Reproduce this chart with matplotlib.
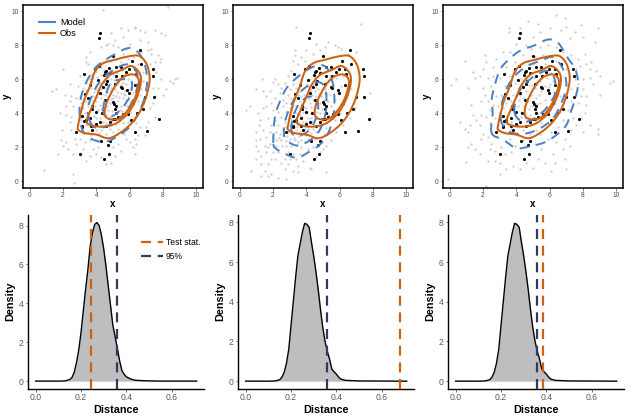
import numpy as np
import matplotlib
matplotlib.use("Agg")
import matplotlib.pyplot as plt
from matplotlib.path import Path
from matplotlib.patches import PathPatch
from matplotlib.lines import Line2D

plt.rcParams['font.family'] = ['Liberation Sans', 'DejaVu Sans']

BLUE = '#4a80c4'
ORANGE = '#cf6210'
NAVY = '#2e3a5e'
GREY = '#cfcfcf'

obs_points = [
 (4.2,8.7),(4.15,8.44),(6.63,7.75),(5,7.38),(6.15,7.07),(6.69,6.9),(4.15,6.8),(3.9,6.6),(7.38,6.62),(5.45,6.74),
 (5.15,6.74),(4.75,6.66),(4.6,6.5),(4.5,6.4),(4.8,6.35),(3.27,6.29),(4.45,6.23),(7.43,6.2),(5.97,6.58),(6.3,6.58),
 (6.37,6.3),(5.8,6.45),(5.53,6.2),(5.15,6.19),(4.07,5.96),(4.63,5.9),(3.6,5.66),(4.6,5.72),(5.1,5.7),(6.3,5.68),
 (6.53,5.66),(5.45,5.53),(5.55,5.47),(4.37,5.53),(5.87,5.37),(5.97,5.2),(3.3,5.14),(4.2,5.18),(3.5,4.9),(6.95,4.94),
 (7.45,4.96),(4.5,4.78),(5,4.69),(5.07,4.53),(5.2,4.43),(6.2,4.59),(3.75,4.45),(3.75,4.26),(5.1,4.24),(6.8,4.26),
 (4,4.06),(5.2,4.04),(6.45,4.04),(4.35,4),(5.6,3.96),(5.9,3.95),(3.17,3.85),(3.65,3.7),(5.3,3.77),(5,3.67),
 (5.1,3.69),(6.1,3.61),(3.25,3.57),(3.37,3.61),(7.78,3.65),(4.2,3.46),(4,3.36),(4.8,3.5),(3.17,3.26),(3.67,3.22),
 (4.57,3.22),(3.77,3.03),(2.77,2.91),(7.07,2.97),(6.3,2.89),(3.17,3.18),(4.27,2.34),(4.8,2.38),(4.7,2.11),(3.03,1.58),
 (4.75,1.58),(4.45,1.29),
]

grey_1 = [
 (0.85,0.65),(2.6,0.4),(2.65,-0.1),(1.35,5.3),(1.6,5.45),(8.3,10.25),(4.4,10.1),(1.7,1.6),(2.0,2.1),(1.9,2.4),
 (1.95,3.0),(2.2,2.3),(2.3,1.9),(2.6,1.6),(2.8,2.2),(2.7,2.5),(2.5,3.0),(2.4,3.5),(2.2,3.9),(2.5,3.8),
 (2.2,4.4),(2.4,4.7),(2.6,4.4),(2.5,5.0),(2.0,6.6),(2.9,5.6),(3.0,5.0),(2.8,4.9),(3.0,6.2),(3.4,7.0),
 (3.4,7.3),(3.5,6.9),(3.7,6.3),(3.6,7.6),(4.3,7.9),(4.6,8.0),(4.9,8.7),(5.5,9.0),(5.9,8.9),(6.3,9.0),
 (6.3,9.1),(6.6,8.9),(6.9,8.8),(7.5,8.9),(7.9,8.7),(8.1,8.6),(5.1,8.3),(5.6,8.5),(4.7,8.1),(5.0,8.0),
 (5.3,7.9),(5.8,7.8),(6.0,8.1),(6.6,8.3),(7.1,8.2),(7.3,7.8),(7.1,7.7),(7.3,7.5),(7.7,7.4),(7.9,7.2),
 (7.8,7.0),(7.5,7.0),(7.2,6.9),(7.6,6.4),(7.9,6.0),(8.4,5.9),(8.7,6.0),(8.85,6.1),(8.2,5.4),(7.7,5.5),
 (7.4,5.5),(7.5,5.0),(7.4,4.6),(7.2,4.3),(7.5,3.8),(7.1,3.5),(7.0,3.2),(6.9,2.7),(6.5,2.7),(6.3,2.5),
 (6.4,2.2),(6.2,2.0),(6.3,1.6),(6.0,2.3),(5.8,2.5),(5.5,1.8),(5.3,2.2),(5.0,2.0),(5.1,1.5),(4.9,1.1),
 (4.6,1.0),(4.3,1.4),(4.0,1.6),(3.8,1.9),(3.6,1.5),(3.4,1.2),(3.2,1.9),(3.3,2.3),(3.0,2.5),(3.6,2.4),
 (4.0,2.4),(4.1,2.0),(3.0,3.3),(3.1,3.6),(3.4,3.3),(3.3,4.0),(3.5,3.9),(3.7,3.4),(3.5,4.4),(3.4,4.7),
 (3.6,4.9),(3.8,4.7),(3.8,5.0),(3.9,4.4),(4.0,4.7),(4.1,4.2),(4.0,3.7),(4.2,3.7),(4.2,4.5),(4.3,4.9),
 (4.1,5.2),(3.9,5.4),(3.7,5.5),(4.0,5.6),(4.2,5.7),(4.3,5.4),(4.5,5.1),(4.4,4.6),(4.5,4.3),(4.6,3.9),
 (4.4,3.5),(4.6,3.4),(4.9,3.3),(4.8,3.8),(4.7,4.2),(4.8,4.6),(4.7,5.0),(4.8,5.3),(4.9,5.5),(4.6,5.5),
 (4.7,6.1),(4.9,6.0),(5.0,6.3),(5.2,6.0),(5.3,5.8),(5.1,5.4),(5.0,5.1),(5.2,5.0),(5.0,4.9),(5.3,4.7),
 (5.4,4.2),(5.5,3.7),(5.6,3.4),(5.3,3.1),(5.0,2.9),(5.5,2.9),(5.8,3.1),(5.9,3.5),(6.0,4.1),(5.7,4.5),
 (5.6,4.9),(5.8,4.8),(6.0,4.7),(5.5,5.2),(5.7,5.3),(5.8,5.7),(5.6,5.8),(5.9,6.0),(6.1,5.9),(6.0,5.5),
 (6.2,5.2),(6.3,4.9),(6.5,4.7),(6.6,5.1),(6.7,5.4),(6.8,5.9),(6.6,6.2),(6.8,6.4),(6.5,6.9),(6.2,7.3),
 (5.9,7.2),(5.5,7.0),(5.6,7.5),(5.2,7.2),(4.9,7.1),(4.6,7.2),(4.4,7.0),(4.3,6.7),(4.0,6.4),(3.8,6.1),
 (3.6,6.0),(3.4,5.8),(3.2,5.5),(3.1,4.6),(3.2,4.3),(6.3,3.7),(6.4,3.4),(6.6,3.2),(4.3,3.0),(4.0,3.0),
 (4.6,2.8),(3.5,2.9),(3.7,2.7),(8.0,5.1),(8.6,5.8),(1.8,4.0),(2.1,5.1),(2.4,5.7),(6.7,7.6),(6.9,7.0),
 (4.05,4.95),(4.15,5.45),(4.35,5.15),(4.55,4.75),(4.65,4.45),(4.25,4.25),(4.45,3.85),(4.75,3.65),(4.95,4.15),(5.05,4.65),
 (4.9,4.85),(4.65,5.25),(4.85,5.75),(5.05,5.95),(5.15,5.65),(5.25,5.25),(5.35,4.95),(5.45,4.45),(5.55,4.15),(5.35,3.55),
 (5.15,3.35),(4.95,3.55),(4.25,3.25),(3.85,3.85),(3.65,4.15),(3.55,4.65),(3.85,5.25),(4.05,5.35),(4.45,5.85),(4.25,6.25),
 (5.45,5.65),(5.65,5.15),(5.75,5.05),(5.85,4.45),(5.25,6.35),(5.75,6.25),(5.55,6.55),(4.95,6.55),(4.45,6.55),(4.05,6.15),
 (3.75,5.85),(3.35,5.35),(3.15,5.15),(3.25,4.85),(3.65,3.65),(3.85,3.25),(4.15,2.85),(4.85,3.05),(5.25,2.75),(5.65,2.75),
]

grey_2 = [
 (0.7,0.6),(1.3,0.3),(1.7,0.3),(1.5,0.6),(1.9,0.4),(2.3,0.2),(2.8,0.15),(3.2,0.6),(3.5,0.55),(3.5,0.9),
 (4.2,0.8),(4.3,0.7),(5.2,0.55),(4.8,1.7),(0.4,4.2),(0.6,4.4),(1.0,5.45),(1.35,6.0),(1.4,5.3),(1.8,5.3),
 (1.6,5.0),(2.0,5.85),(2.1,6.0),(2.3,5.7),(3.4,9.1),(7.3,9.25),(3.2,7.1),(3.3,7.4),(3.3,7.7),(4.0,7.75),
 (4.6,8.1),(5.3,8.2),(5.7,8.0),(5.9,7.9),(6.1,7.8),(6.5,7.5),(7.0,7.6),(5.1,7.9),(4.8,7.7),(4.4,7.5),
 (3.7,7.3),(3.5,6.9),(3.9,7.1),(4.6,7.1),(3.1,6.5),(2.9,6.2),(2.7,5.8),(2.5,5.5),(2.4,5.2),(2.1,4.9),
 (1.9,4.6),(1.6,4.4),(1.4,4.3),(1.1,4.0),(1.2,3.6),(1.15,3.3),(1.0,2.9),(1.4,3.0),(0.95,2.4),(1.0,2.1),
 (1.1,1.8),(1.25,1.5),(1.0,1.3),(1.3,1.0),(1.7,1.0),(1.85,1.3),(1.6,1.7),(1.5,2.1),(1.8,2.2),(1.6,2.6),
 (1.8,2.9),(2.0,2.6),(2.2,2.9),(1.9,3.3),(2.1,3.6),(2.3,3.3),(1.7,3.7),(2.3,4.1),(2.6,4.4),(2.6,4.8),
 (2.8,4.6),(2.9,5.1),(3.0,5.4),(3.2,5.7),(3.4,5.5),(3.1,4.9),(3.3,4.8),(3.0,4.3),(2.8,4.1),(2.5,3.8),
 (2.7,3.5),(2.6,3.1),(2.4,2.8),(2.5,2.4),(2.2,2.1),(2.3,1.7),(2.1,1.3),(2.5,1.1),(2.7,1.3),(2.9,1.0),
 (2.9,1.7),(2.8,2.1),(3.0,2.5),(2.9,2.9),(3.0,3.3),(3.1,3.7),(3.3,4.1),(3.4,4.4),(3.6,4.7),(3.7,5.0),
 (3.8,5.4),(4.0,5.7),(4.1,5.1),(4.3,5.4),(4.2,6.0),(4.5,6.1),(4.4,5.7),(4.7,5.4),(4.6,5.0),(4.4,4.8),
 (4.2,4.6),(4.0,4.3),(3.8,4.1),(3.6,3.9),(3.5,3.5),(3.3,3.2),(3.2,2.8),(3.3,2.4),(3.1,2.1),(3.2,1.6),
 (3.4,1.3),(3.6,1.6),(3.7,2.0),(3.5,2.3),(3.7,2.7),(3.9,3.1),(3.8,3.5),(4.1,3.7),(4.3,4.0),(4.5,4.3),
 (4.8,4.6),(4.9,5.0),(5.1,5.4),(5.2,5.8),(5.4,6.2),(5.1,6.4),(4.8,6.5),(5.6,6.6),(5.8,6.1),(5.6,5.6),
 (5.4,5.1),(5.3,4.7),(5.1,4.3),(4.8,4.0),(4.6,3.7),(4.3,3.4),(4.1,3.1),(4.0,2.7),(3.9,2.3),(4.1,1.9),
 (4.4,2.0),(4.5,2.5),(4.6,2.9),(4.8,3.2),(5.0,3.6),(5.3,3.9),(5.5,4.4),(5.7,4.8),(5.9,5.2),(6.1,5.6),
 (6.2,6.2),(6.4,6.6),(6.6,5.9),(6.7,5.4),(7.0,5.0),(7.8,5.2),(6.4,5.0),(6.2,4.5),(6.0,4.0),(5.7,3.6),
 (5.4,3.2),(5.1,2.8),(4.9,2.4),(5.2,2.1),(5.5,2.4),(5.8,2.9),(6.2,3.3),(6.6,3.7),(6.9,4.3),(3.6,4.3),
 (3.9,4.7),(3.4,3.0),(3.7,3.3),(4.0,3.5),(4.3,3.7),(3.8,3.0),(4.4,3.1),(4.1,2.5),(3.6,2.9),(3.4,3.7),
 (2.8,3.2),(3.0,3.9),(3.2,4.4),(3.5,5.1),(3.9,4.9),(4.2,5.3),(4.5,5.3),(4.7,4.3),(4.9,3.7),(2.6,2.7),
 (2.2,2.4),(1.7,2.0),(1.2,2.5),(2.0,1.7),(2.7,0.7),(3.0,1.3),(3.8,1.2),(4.6,1.4),(5.0,1.9),(2.0,4.2),
 (3.25,3.55),(3.45,3.95),(3.65,4.55),(3.75,3.75),(3.85,4.35),(4.05,4.05),(4.15,4.85),(4.25,4.35),(4.35,5.05),(4.55,4.55),
 (4.65,4.85),(4.75,5.15),(4.55,5.55),(4.15,5.55),(3.85,5.05),(3.55,5.25),(3.35,5.05),(3.15,4.25),(2.95,3.65),(2.85,2.65),
 (3.05,2.95),(3.15,3.35),(3.45,3.25),(3.55,2.65),(3.85,2.75),(4.05,3.25),(4.25,2.85),(4.35,3.55),(4.55,3.25),(4.65,4.05),
 (4.95,4.25),(5.05,4.75),(5.25,5.15),(5.15,3.15),(3.25,2.55),(3.45,2.15),(3.65,2.45),(2.75,2.35),(2.55,2.05),(2.35,2.55),
]

grey_3 = [
 (-0.1,0.15),(2.15,-0.3),(0.9,7.1),(0.4,6.0),(0.1,5.65),(1.4,6.4),(1.5,6.1),(2.1,7.4),(2.2,7.0),(2.8,7.2),
 (3.55,9.0),(3.55,8.8),(4.7,9.4),(5.3,9.25),(6.4,9.8),(6.9,9.6),(7.0,9.1),(7.9,9.2),(8.9,9.0),(8.0,8.5),
 (7.5,8.8),(7.2,8.4),(6.7,8.9),(6.0,9.0),(5.4,8.8),(5.0,8.5),(4.6,8.0),(4.0,8.1),(3.6,7.6),(3.2,7.6),
 (2.6,6.7),(2.0,6.6),(1.8,6.2),(1.1,5.5),(1.3,4.5),(1.9,4.7),(2.1,5.1),(2.5,5.6),(3.0,6.1),(3.4,6.7),
 (3.9,7.0),(4.4,7.4),(4.9,7.8),(5.4,7.9),(5.9,8.0),(6.4,7.9),(6.8,7.6),(7.3,7.4),(7.7,7.2),(8.1,7.5),
 (8.5,7.0),(8.4,6.6),(8.8,6.5),(9.0,6.2),(8.4,6.1),(8.0,6.0),(8.6,5.7),(9.0,5.1),(8.0,5.4),(8.2,5.0),
 (9.8,5.9),(9.6,5.8),(7.9,5.0),(7.7,4.6),(8.2,4.5),(8.1,4.0),(7.9,3.7),(8.4,3.3),(8.9,3.1),(7.6,3.3),
 (7.3,3.0),(6.9,2.5),(7.2,2.1),(6.8,1.9),(6.2,1.6),(6.4,2.3),(5.9,2.5),(5.5,1.9),(5.3,1.3),(5.7,1.1),
 (7.0,0.7),(6.1,0.6),(5.0,0.8),(4.6,1.1),(4.2,0.7),(3.8,0.9),(3.4,0.7),(3.0,1.1),(2.7,1.2),(2.3,1.2),
 (0.95,1.15),(1.8,1.6),(1.5,1.9),(1.3,2.2),(1.1,2.0),(0.9,3.1),(1.1,2.9),(1.2,3.3),(1.6,3.6),(1.9,3.9),
 (1.8,3.3),(2.0,2.8),(2.3,2.6),(2.5,2.2),(2.7,1.8),(3.1,2.0),(3.3,1.6),(3.7,1.7),(3.9,2.1),(3.6,2.5),
 (3.2,2.9),(2.9,3.1),(2.4,3.4),(2.2,3.8),(2.4,4.2),(2.6,4.5),(2.3,4.7),(2.8,5.0),(2.9,4.4),(3.1,3.8),
 (3.3,3.4),(3.7,3.1),(4.1,2.8),(4.4,2.4),(4.8,2.8),(5.1,2.2),(5.4,2.8),(5.7,3.1),(6.1,2.9),(6.5,3.2),
 (6.8,3.6),(6.6,4.1),(7.1,4.2),(7.3,4.7),(7.0,5.0),(7.3,5.4),(7.0,5.7),(7.2,6.2),(7.0,6.6),(6.7,6.9),
 (6.4,7.1),(6.0,7.3),(5.6,7.4),(5.1,7.3),(4.7,7.0),(4.3,6.9),(3.9,6.4),(3.6,6.2),(3.3,5.6),(3.1,5.1),
 (3.4,4.6),(3.6,4.2),(3.9,3.9),(3.7,3.5),(4.1,3.3),(4.4,3.0),(4.7,3.3),(5.2,3.0),(5.5,3.4),(5.9,3.4),
 (6.2,3.8),(6.0,4.2),(6.3,4.6),(6.6,5.0),(6.5,5.5),(6.2,5.9),(6.4,6.3),(6.0,6.7),(5.7,6.9),(5.3,6.5),
 (5.0,6.9),(4.6,6.0),(4.3,6.0),(4.1,5.5),(3.8,5.1),(3.7,4.7),(4.1,4.4),(4.3,4.1),(4.5,3.7),(4.8,3.9),
 (5.2,4.2),(5.4,4.6),(5.7,4.8),(5.9,5.2),(5.7,5.6),(5.4,5.9),(5.1,5.5),(4.9,5.1),(4.7,4.7),(4.4,4.9),
 (4.6,5.3),(5.5,5.3),(6.0,5.7),(5.2,4.9),(4.9,4.4),(4.2,5.1),(3.9,5.8),(3.5,5.3),(3.2,4.3),(2.7,3.7),
 (7.6,6.6),(7.8,6.8),(8.2,6.9),(7.5,6.0),(7.7,5.7),(7.4,3.7),(8.0,2.9),(8.9,2.8),(6.9,1.3),(6.3,1.1),
 (3.0,0.4),(2.4,1.9),(1.9,2.5),(1.4,3.9),(0.6,3.5),(2.6,6.2),(2.3,6.1),(2.0,5.5),(4.2,9.0),(8.7,8.2),
 (4.85,6.35),(5.05,6.05),(4.55,6.45),(4.75,5.65),(5.25,5.75),(5.55,6.25),(5.85,6.05),(6.05,6.35),(5.95,5.55),(6.25,5.25),
 (6.05,4.85),(5.75,4.35),(5.45,4.05),(5.05,3.65),(4.65,3.55),(4.25,3.75),(4.05,3.65),(3.85,4.35),(3.55,4.85),(3.35,5.05),
 (4.15,4.75),(4.45,4.45),(4.75,4.25),(5.05,4.45),(5.25,4.55),(5.35,5.05),(4.95,5.65),(4.35,5.65),(4.05,5.05),(3.65,5.65),
]

obs_outer = [(2.91,3.32),(3.11,4.2),(3.31,4.88),(3.61,5.57),(3.91,6.44),(4.41,6.94),(5.21,7.17),(6.01,7.36),(6.6,7.36),(7.04,6.84),(7.2,5.96),(6.96,4.88),(6.5,3.91),(5.81,3.13),(4.81,2.54),(4.01,2.74),(3.31,2.83),(2.91,3.03)]
obs_middle = [(3.41,3.51),(3.71,4.3),(4.01,4.98),(4.31,5.66),(4.81,6.25),(5.51,6.54),(6.11,6.78),(6.6,6.35),(6.66,5.76),(6.41,4.88),(5.9,4.0),(5.21,3.42),(4.51,3.22),(3.81,3.26)]
obs_inner = [(4.51,3.91),(4.61,4.59),(5.11,5.57),(5.6,6.11),(6.11,6.29),(6.44,6.15),(6.56,5.76),(6.31,4.88),(5.9,4.2),(5.41,3.71),(4.81,3.65)]

model_1 = [
 [(3.01,3.81),(3.01,4.59),(3.21,5.37),(3.57,6.15),(4.11,6.84),(5.01,7.42),(5.81,7.81),(6.31,7.75),(6.81,7.13),(7.05,6.05),(6.91,4.98),(6.61,4.20),(6.11,3.32),(5.41,2.73),(4.61,2.34),(3.81,2.44),(3.21,2.93)],
 [(3.61,3.52),(3.51,4.39),(4.01,5.57),(4.61,6.25),(5.61,6.84),(6.21,6.74),(6.51,5.96),(6.21,4.79),(5.61,3.91),(4.81,3.32),(4.01,3.13)],
 [(4.41,4.20),(4.61,5.18),(4.91,5.80),(5.61,6.0),(6.11,5.86),(6.05,5.08),(5.61,4.39),(5.11,3.91),(4.61,3.81)],
]
model_2 = [
 [(2.02,2.25),(2.12,3.81),(2.46,4.79),(2.85,5.53),(3.45,6.11),(4.21,6.64),(4.91,6.84),(5.37,6.45),(5.65,5.37),(5.65,4.0),(5.31,2.83),(4.81,2.15),(4.11,1.70),(3.45,1.37),(2.71,1.62),(2.22,1.89)],
 [(2.7,2.6),(2.75,3.6),(3.2,4.7),(3.8,5.4),(4.5,5.8),(5.0,5.7),(5.2,5.0),(5.15,4.0),(4.8,3.0),(4.2,2.4),(3.4,2.1)],
 [(3.1,3.0),(3.2,3.8),(3.6,4.6),(4.1,4.95),(4.6,4.9),(4.7,4.2),(4.4,3.3),(3.9,2.8),(3.3,2.7)],
]
model_3 = [
 [(2.52,2.83),(2.58,4.0),(2.52,4.79),(2.71,5.66),(3.01,6.54),(3.51,7.13),(4.21,7.67),(5.11,8.0),(5.91,8.34),(6.51,8.14),(7.11,7.22),(7.51,6.64),(7.71,5.76),(7.51,4.79),(7.31,4.20),(7.01,3.32),(6.41,2.73),(5.71,2.29),(4.81,2.05),(4.01,1.95),(3.21,2.44)],
 [(3.1,3.5),(3.1,4.4),(3.4,5.4),(3.9,6.2),(4.7,6.8),(5.5,7.1),(6.2,7.3),(6.8,6.6),(7.0,5.6),(6.7,4.6),(6.2,3.7),(5.4,3.1),(4.5,2.8),(3.6,2.9)],
 [(3.9,4.0),(4.0,4.9),(4.4,5.6),(5.1,6.2),(5.9,6.5),(6.3,6.0),(6.3,5.1),(5.8,4.3),(5.1,3.7),(4.4,3.5)],
]

density_1_x = [0,0.1,0.13,0.15,0.16,0.17,0.18,0.19,0.20,0.21,0.22,0.23,0.24,0.25,0.26,0.27,0.28,0.29,0.30,0.31,0.32,0.33,0.34,0.35,0.36,0.37,0.38,0.39,0.40,0.42,0.44,0.5,0.55,0.71]
density_1_y = [0,0,0.01,0.08,0.18,0.45,0.95,1.6,2.5,3.6,4.7,5.7,6.9,7.6,8.05,8.15,8.0,7.5,6.8,5.9,4.9,3.9,2.9,2.3,1.7,1.05,0.55,0.35,0.22,0.1,0.04,0.01,0,0]
density_2_x = [0,0.1,0.13,0.15,0.16,0.17,0.18,0.19,0.20,0.21,0.22,0.23,0.24,0.25,0.26,0.27,0.28,0.29,0.30,0.31,0.32,0.33,0.34,0.35,0.36,0.37,0.38,0.39,0.40,0.41,0.42,0.44,0.5,0.71]
density_2_y = [0,0,0.01,0.07,0.2,0.45,0.9,1.6,2.8,4.0,5.2,6.3,6.9,7.5,7.95,7.9,7.75,7.0,6.3,5.5,4.6,3.6,2.7,2.0,1.5,1.1,0.6,0.47,0.35,0.2,0.1,0.04,0.01,0]
density_3_x = density_2_x
density_3_y = density_2_y

test_stat = [0.245, 0.68, 0.385]
quantile_95 = [0.357, 0.36, 0.36]

x_ticks_top = [0, 2, 4, 6, 8, 10]
x_ticks_bottom = [0.0, 0.2, 0.4, 0.6]
y_ticks_bottom = [0, 2, 4, 6, 8]

W, H = 630, 420
fig = plt.figure(figsize=(W/100, H/100), dpi=100, facecolor='white')

def axes_px(left, top, right, bottom):
    return fig.add_axes([left/W, 1-bottom/H, (right-left)/W, (bottom-top)/H])

def closed_curve(points):
    """Bezier path through the read points, drawn by matplotlib's Path."""
    p = np.array(points, float)
    n = len(p)
    verts = [p[0]]
    codes = [Path.MOVETO]
    for i in range(n):
        p0, p1, p2, p3 = p[(i-1) % n], p[i], p[(i+1) % n], p[(i+2) % n]
        verts += [p1+(p2-p0)/6, p2-(p3-p1)/6, p2]
        codes += [Path.CURVE4]*3
    return Path(verts, codes)

lefts = [23, 233, 443]
greys = [grey_1, grey_2, grey_3]
models = [model_1, model_2, model_3]
ox, oy = map(np.array, zip(*obs_points))
VDASH = (0, (4.5, 3.0))

for i in range(3):
    ax = axes_px(lefts[i], 4.5, lefts[i]+180, 188)
    g = np.array(greys[i])
    ax.scatter(g[:, 0], g[:, 1], s=2.8, color=GREY, linewidths=0, zorder=1)
    ax.scatter(ox, oy, s=5, color='black', linewidths=0, zorder=2)
    for c in models[i]:
        ax.add_patch(PathPatch(closed_curve(c), fill=False, ec=BLUE, lw=1.4,
                               ls=(0, (5, 3.6)), zorder=3))
    for c in (obs_outer, obs_middle, obs_inner):
        ax.add_patch(PathPatch(closed_curve(c), fill=False, ec=ORANGE, lw=1.45, zorder=4))
    ax.set_xlim(-0.4, 10.4)
    ax.set_ylim(-0.4, 10.4)
    ax.set_xticks(x_ticks_top)
    ax.set_yticks(x_ticks_top)
    ax.tick_params(labelsize=4.8, length=1.8, width=0.5, pad=1.2, colors='#4d4d4d')
    for s in ax.spines.values():
        s.set_linewidth(1.1)
    ax.set_xlabel('x', fontsize=7, fontweight='bold', labelpad=0)
    ax.set_ylabel('y', fontsize=7, fontweight='bold', labelpad=-0.5)
    if i == 0:
        handles = [Line2D([], [], color=BLUE, lw=1.5), Line2D([], [], color=ORANGE, lw=1.5)]
        ax.legend(handles, ['Model', 'Obs'], loc='upper left', bbox_to_anchor=(0.089, 0.925),
                  frameon=False, fontsize=6.6, handlelength=1.75, handletextpad=0.55,
                  labelspacing=0.2, borderpad=0, borderaxespad=0)

dens = [(density_1_x, density_1_y), (density_2_x, density_2_y), (density_3_x, density_3_y)]
tops = [8.54, 8.37, 8.37]
ymins = [-0.38, -0.37, -0.37]
for i in range(3):
    ax = axes_px(lefts[i]+4.7, 215, lefts[i]+181, 388.5)
    dx, dy = dens[i]
    ax.fill_between(dx, 0, dy, color='#bebebe', linewidth=0, zorder=1)
    ax.plot(dx, dy, color='black', lw=1.0, zorder=2)
    ax.axvline(test_stat[i], color=ORANGE, lw=1.6, ls=VDASH, zorder=3)
    ax.axvline(quantile_95[i], color=NAVY, lw=1.6, ls=VDASH, zorder=3)
    ax.set_xlim(-0.035, 0.742)
    ax.set_ylim(ymins[i], tops[i])
    ax.set_xticks(x_ticks_bottom)
    ax.set_xticklabels([f'{v:.1f}' for v in x_ticks_bottom])
    ax.set_yticks(y_ticks_bottom)
    ax.tick_params(labelsize=6.2, length=1.8, width=0.6, pad=1.3, colors='#5a5a5a')
    ax.spines['top'].set_visible(False)
    ax.spines['right'].set_visible(False)
    ax.spines['left'].set_linewidth(1.0)
    ax.spines['bottom'].set_linewidth(1.0)
    ax.set_xlabel('Distance', fontsize=7.8, fontweight='bold', labelpad=2.5)
    ax.set_ylabel('Density', fontsize=7.8, fontweight='bold', labelpad=2)
    if i == 0:
        handles = [Line2D([], [], color=ORANGE, lw=1.6, ls=VDASH),
                   Line2D([], [], color=NAVY, lw=1.6, ls=VDASH)]
        ax.legend(handles, ['Test stat.', '95%'], loc='upper left', bbox_to_anchor=(0.64, 0.87),
                  frameon=False, fontsize=6.2, handlelength=2.6, handletextpad=0.35,
                  labelspacing=0.65, borderpad=0, borderaxespad=0)

fig.savefig('out.png', dpi=100, facecolor='white')
